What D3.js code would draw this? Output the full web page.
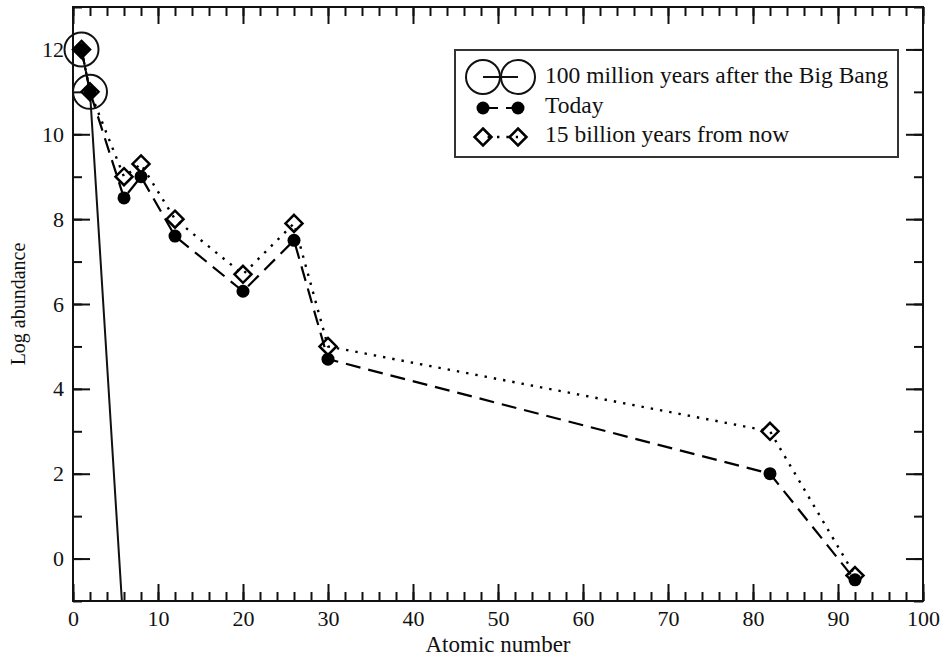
<!DOCTYPE html>
<html>
<head>
<meta charset="utf-8">
<script src="https://cdn.jsdelivr.net/npm/d3@7"></script>
<style>
  html, body { margin: 0; padding: 0; background: #fff; }
  svg { display: block; }
  text { font-family: "Liberation Serif", "Times New Roman", serif; fill: #111; }
</style>
</head>
<body>
<svg id="chart" width="945" height="656"></svg>
<script>
// Log abundance vs atomic number, three epochs
const bigBangZ   = [1, 2, 6];
const bigBangLog = [12, 11, -1.8];

const todayZ   = [1, 2, 6, 8, 12, 20, 26, 30, 82, 92];
const todayLog = [12, 11, 8.5, 9.0, 7.6, 6.3, 7.5, 4.7, 2.0, -0.5];

const futureZ   = [1, 2, 6, 8, 12, 20, 26, 30, 82, 92];
const futureLog = [12, 11, 9.0, 9.3, 8.0, 6.7, 7.9, 5.0, 3.0, -0.4];

const xMajorTicks = [0, 10, 20, 30, 40, 50, 60, 70, 80, 90, 100];
const xMinorTicks = d3.range(0, 101, 2);
const yMajorTicks = [0, 2, 4, 6, 8, 10, 12];
const yMinorTicks = d3.range(-1, 14, 1);

const seriesNames = [
  "100 million years after the Big Bang",
  "Today",
  "15 billion years from now"
];

const svg = d3.select("#chart");
const pLeft = 73, pRight = 923, pTop = 7, pBottom = 601;

const x = d3.scaleLinear().domain([0, 100]).range([pLeft, pRight]);
const y = d3.scaleLinear().domain([-1, 13]).range([pBottom, pTop]);

const clipId = "plotClip";
svg.append("defs").append("clipPath").attr("id", clipId)
  .append("rect").attr("x", pLeft).attr("y", pTop)
  .attr("width", pRight - pLeft).attr("height", pBottom - pTop);

// axes: ticks point inward on all four sides
function styleAxis(g) {
  g.select(".domain").remove();
  g.selectAll(".tick line").attr("stroke", "#111").attr("stroke-width", 2);
  g.selectAll(".tick text")
    .attr("font-family", "Liberation Serif, serif")
    .attr("font-size", 22).attr("fill", "#111");
}
const MAJ = 17, MIN = 9;

svg.append("g").attr("transform", `translate(0,${pBottom})`)
  .call(d3.axisBottom(x).tickValues(xMinorTicks).tickSize(-MIN).tickFormat("")).call(styleAxis);
svg.append("g").attr("transform", `translate(0,${pBottom})`)
  .call(d3.axisBottom(x).tickValues(xMajorTicks).tickSize(-MAJ).tickPadding(9).tickFormat(d3.format("d"))).call(styleAxis);
svg.append("g").attr("transform", `translate(0,${pTop})`)
  .call(d3.axisTop(x).tickValues(xMinorTicks).tickSize(-MIN).tickFormat("")).call(styleAxis);
svg.append("g").attr("transform", `translate(0,${pTop})`)
  .call(d3.axisTop(x).tickValues(xMajorTicks).tickSize(-MAJ).tickFormat("")).call(styleAxis);

svg.append("g").attr("transform", `translate(${pLeft},0)`)
  .call(d3.axisLeft(y).tickValues(yMinorTicks).tickSize(-MIN).tickFormat("")).call(styleAxis);
svg.append("g").attr("transform", `translate(${pLeft},0)`)
  .call(d3.axisLeft(y).tickValues(yMajorTicks).tickSize(-MAJ).tickPadding(9).tickFormat(d3.format("d"))).call(styleAxis);
svg.append("g").attr("transform", `translate(${pRight},0)`)
  .call(d3.axisRight(y).tickValues(yMinorTicks).tickSize(-MIN).tickFormat("")).call(styleAxis);
svg.append("g").attr("transform", `translate(${pRight},0)`)
  .call(d3.axisRight(y).tickValues(yMajorTicks).tickSize(-MAJ).tickFormat("")).call(styleAxis);

// frame
svg.append("rect").attr("x", pLeft).attr("y", pTop)
  .attr("width", pRight - pLeft).attr("height", pBottom - pTop)
  .attr("fill", "none").attr("stroke", "#111").attr("stroke-width", 2);

// axis titles
svg.append("text").attr("x", (pLeft + pRight) / 2).attr("y", 652)
  .attr("text-anchor", "middle").attr("font-size", 23).text("Atomic number");
svg.append("text")
  .attr("transform", `translate(25,${(pTop + pBottom) / 2}) rotate(-90)`)
  .attr("text-anchor", "middle").attr("font-size", 20).text("Log abundance");

const line = d3.line().x(d => x(d[0])).y(d => y(d[1]));
const zip = (a, b) => a.map((v, i) => [v, b[i]]);

const bigBang = zip(bigBangZ, bigBangLog);
const today = zip(todayZ, todayLog);
const future = zip(futureZ, futureLog);

// lines are clipped to the frame, symbols are not
const lines = svg.append("g").attr("clip-path", `url(#${clipId})`);
const marks = svg.append("g");

// marker painters
const diamond = (s) => `M0,${-s}L${s},0L0,${s}L${-s},0Z`;
function bigCircle(g, cx, cy) {
  g.append("circle").attr("cx", cx).attr("cy", cy).attr("r", 17)
    .attr("fill", "none").attr("stroke", "#111").attr("stroke-width", 2);
}
function dotMarker(g, cx, cy) {
  g.append("circle").attr("cx", cx).attr("cy", cy).attr("r", 6.5).attr("fill", "#000");
}
function diamondMarker(g, cx, cy) {
  g.append("path").attr("d", diamond(8.5))
    .attr("transform", `translate(${cx},${cy})`)
    .attr("fill", "none").attr("stroke", "#000").attr("stroke-width", 2.5);
}

// Big Bang series
lines.append("path").datum(bigBang).attr("d", line)
  .attr("fill", "none").attr("stroke", "#111").attr("stroke-width", 2);
bigBang.filter(d => d[1] >= -1).forEach(d => bigCircle(marks, x(d[0]), y(d[1])));

// Today series
lines.append("path").datum(today).attr("d", line)
  .attr("fill", "none").attr("stroke", "#000").attr("stroke-width", 2.2)
  .attr("stroke-dasharray", "15,8");
today.forEach(d => dotMarker(marks, x(d[0]), y(d[1])));

// 15 billion years series
lines.append("path").datum(future).attr("d", line)
  .attr("fill", "none").attr("stroke", "#000").attr("stroke-width", 2.4)
  .attr("stroke-dasharray", "2.4,7");
future.forEach(d => diamondMarker(marks, x(d[0]), y(d[1])));

// legend
const lg = svg.append("g");
lg.append("rect").attr("x", 455).attr("y", 50).attr("width", 443).attr("height", 107)
  .attr("fill", "#fff").attr("stroke", "#333").attr("stroke-width", 2);
const lx1 = 483, lx2 = 518, rows = [77, 108, 137];
// row 1
lg.append("line").attr("x1", lx1).attr("x2", lx2).attr("y1", rows[0]).attr("y2", rows[0])
  .attr("stroke", "#111").attr("stroke-width", 2);
bigCircle(lg, lx1, rows[0]); bigCircle(lg, lx2, rows[0]);
// row 2
lg.append("line").attr("x1", lx1).attr("x2", lx2).attr("y1", rows[1]).attr("y2", rows[1])
  .attr("stroke", "#000").attr("stroke-width", 2.2).attr("stroke-dasharray", "15,8");
dotMarker(lg, lx1, rows[1]); dotMarker(lg, lx2, rows[1]);
// row 3
lg.append("line").attr("x1", lx1).attr("x2", lx2).attr("y1", rows[2]).attr("y2", rows[2])
  .attr("stroke", "#000").attr("stroke-width", 2.4).attr("stroke-dasharray", "2.4,7")
  .attr("stroke-dashoffset", -14);
diamondMarker(lg, lx1, rows[2]); diamondMarker(lg, lx2, rows[2]);

const rowBaseline = [83, 113, 142];
seriesNames.forEach((name, i) => {
  lg.append("text").attr("x", 545).attr("y", rowBaseline[i])
    .attr("font-size", 23.5).text(name);
});
</script>
</body>
</html>
